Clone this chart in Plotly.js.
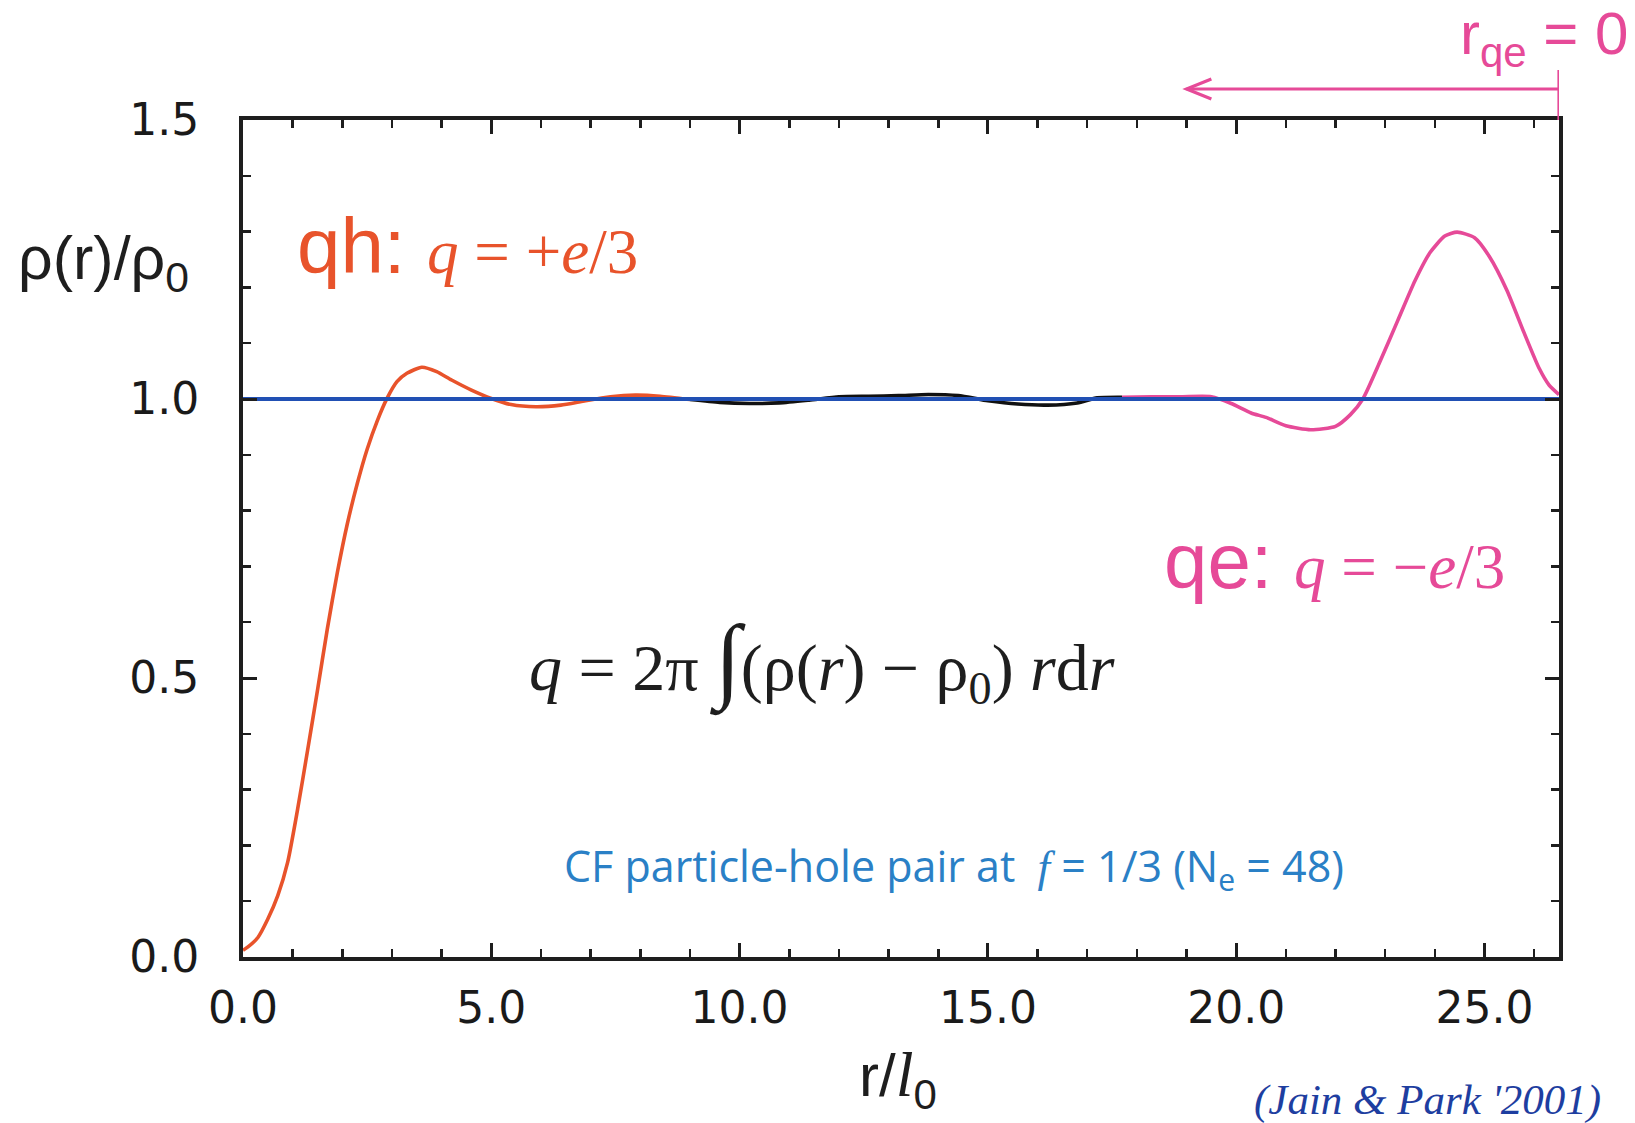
<!DOCTYPE html>
<html>
<head>
<meta charset="utf-8">
<script src="https://cdn.plot.ly/plotly-3.0.1.min.js"></script>
<style>
  html, body { margin: 0; padding: 0; background: #ffffff; }
  #chart { width: 1635px; height: 1123px; }
</style>
</head>
<body>
<div id="chart"></div>
<script>
// Radial density profile of a CF particle-hole pair, rho(r)/rho0 versus r/l0.

// Quasihole side (orange), measured from the quasihole centre
const rQh = [0, 0.1, 0.3, 0.5, 0.7, 0.9, 1.1, 1.3, 1.5, 1.7, 1.9, 2.1, 2.3, 2.5, 2.7, 2.9,
             3.1, 3.3, 3.6, 3.9, 4.2, 4.6, 5.0, 5.4, 5.9, 6.4, 6.9, 7.4, 7.9, 8.4, 9.0];
const rhoQh = [0.012, 0.018, 0.035, 0.068, 0.11, 0.17, 0.265, 0.37, 0.478, 0.589, 0.689,
               0.776, 0.848, 0.91, 0.96, 1.001, 1.031, 1.046, 1.057, 1.049, 1.034, 1.016,
               1.001, 0.99, 0.986, 0.989, 0.997, 1.004, 1.007, 1.005, 0.999];

// Bulk region between the two quasiparticles (black)
const rMid = [9.0, 9.6, 10.2, 10.8, 11.4, 12.0, 12.6, 13.2, 13.8, 14.4, 15.0, 15.6, 16.2,
              16.8, 17.2, 17.7];
const rhoMid = [0.999, 0.994, 0.992, 0.993, 0.998, 1.004, 1.005, 1.006, 1.008, 1.006,
                0.997, 0.991, 0.989, 0.993, 1.002, 1.003];

// Quasielectron side (pink), quasielectron centre at the right edge
const rQe = [17.7, 18.3, 18.9, 19.5, 19.9, 20.3, 20.6, 21.0, 21.5, 22.0, 22.3, 22.55, 22.9,
             23.25, 23.6, 23.9, 24.2, 24.45, 24.8, 25.1, 25.45, 25.8, 26.1, 26.3, 26.5];
const rhoQe = [1.003, 1.004, 1.004, 1.004, 0.992, 0.975, 0.967, 0.952, 0.945, 0.951, 0.972,
               1.0, 1.068, 1.14, 1.212, 1.262, 1.292, 1.299, 1.289, 1.255, 1.195, 1.118,
               1.055, 1.025, 1.008];

// Uniform background density rho0
const rBulk = [0, 26.5];
const rhoBulk = [1, 1];

// Axis ticks
const xTickVals = [0, 5, 10, 15, 20, 25];
const xTickText = ['0.0', '5.0', '10.0', '15.0', '20.0', '25.0'];
const yTickVals = [0, 0.5, 1.0, 1.5];
const yTickText = ['0.0', '0.5', '1.0', '1.5'];

const ORANGE = '#e8532b';
const PINK = '#e64a98';
const BLUE_LINE = '#2150b4';
const CF_BLUE = '#2a80c6';
const REF_BLUE = '#1e3ea0';
const INK = '#1e1e1e';
const SANS = '"Liberation Sans", Arial, sans-serif';
const WIDE = '"DejaVu Sans", sans-serif';
const SERIF = '"Liberation Serif", "Times New Roman", serif';

const W = 1635, H = 1123;
const M = { l: 243, r: 76, t: 120, b: 166 };
const xRange = [0, 26.5];
const yRange = [0, 1.5];

// helpers for placing text in page pixels outside the axes
const pw = W - M.l - M.r, ph = H - M.t - M.b;
const px = x => (x - M.l) / pw;
const py = y => (H - M.b - y) / ph;

const curve = (x, y, color) => ({
  x: x, y: y, type: 'scatter', mode: 'lines',
  line: { color: color, width: 3.6, shape: 'spline', smoothing: 0.6 },
  hoverinfo: 'skip', showlegend: false
});

const traces = [
  curve(rQh, rhoQh, ORANGE),
  curve(rMid, rhoMid, '#111111'),
  curve(rQe, rhoQe, PINK),
  { x: rBulk, y: rhoBulk, type: 'scatter', mode: 'lines',
    line: { color: BLUE_LINE, width: 4 }, hoverinfo: 'skip', showlegend: false }
];

const serifSpan = (s, size) =>
  `<span style="font-family:'Liberation Serif';font-size:${size}px">${s}</span>`;

const annotations = [
  { // quasihole label
    x: 1.05, y: 1.274, xref: 'x', yref: 'y', xanchor: 'left', yanchor: 'middle',
    showarrow: false, font: { family: SANS, size: 78, color: ORANGE },
    text: 'qh: ' + serifSpan('<i>q</i> = +<i>e</i>/3', 63)
  },
  { // quasielectron label
    x: 18.5, y: 0.71, xref: 'x', yref: 'y', xanchor: 'left', yanchor: 'middle',
    showarrow: false, font: { family: SANS, size: 78, color: PINK },
    text: 'qe: ' + serifSpan('<i>q</i> = −<i>e</i>/3', 63)
  },
  { // charge integral
    x: 5.72, y: 0.53, xref: 'x', yref: 'y', xanchor: 'left', yanchor: 'middle',
    showarrow: false, font: { family: SERIF, size: 66, color: INK },
    text: '<i>q</i> = 2π <span style="font-size:94px">∫</span>(ρ(<i>r</i>) − ρ<sub>0</sub>) <i>r</i>d<i>r</i>'
  },
  { // system description
    x: px(954), y: py(868), xref: 'paper', yref: 'paper', xanchor: 'center', yanchor: 'middle',
    showarrow: false, font: { family: '"Open Sans", sans-serif', size: 43, color: CF_BLUE },
    text: 'CF particle-hole pair at  ' +
          serifSpan('<i>f</i>', 45) + ' = 1/3 (N<sub>e</sub> = 48)'
  },
  { // reference
    x: px(1603), y: py(1100), xref: 'paper', yref: 'paper', xanchor: 'right', yanchor: 'middle',
    showarrow: false, font: { family: SERIF, size: 43, color: REF_BLUE },
    text: "<i>(Jain &amp; Park '2001)</i>"
  },
  { // quasielectron origin marker
    x: px(1630), y: py(38), xref: 'paper', yref: 'paper', xanchor: 'right', yanchor: 'middle',
    showarrow: false, font: { family: SANS, size: 60, color: PINK },
    text: 'r<sub>qe</sub> = 0'
  },
  { // y axis title
    x: px(16), y: py(262), xref: 'paper', yref: 'paper', xanchor: 'left', yanchor: 'middle',
    showarrow: false, font: { family: SANS, size: 61, color: INK },
    text: 'ρ(r)/ρ<sub>0</sub>'
  },
  { // x axis title
    x: px(898), y: py(1078), xref: 'paper', yref: 'paper', xanchor: 'center', yanchor: 'middle',
    showarrow: false, font: { family: SANS, size: 60, color: INK },
    text: 'r/' + serifSpan('<i>l</i>', 64) + '<sub>0</sub>'
  }
];

// arrow from r_qe = 0 pointing toward decreasing r
const arrowY = py(89);
const shapes = [
  { type: 'line', xref: 'x', yref: 'paper', x0: 19.0, x1: 26.5, y0: arrowY, y1: arrowY,
    line: { color: PINK, width: 3.2 } },
  { type: 'line', xref: 'x', yref: 'paper', x0: 26.5, x1: 26.5, y0: py(70), y1: 1,
    line: { color: PINK, width: 3.2 } },
  { type: 'path', xref: 'x', yref: 'paper',
    path: `M 19.5 ${arrowY + 0.012} L 19.0 ${arrowY} L 19.5 ${arrowY - 0.012}`,
    line: { color: PINK, width: 3.2 } }
];

const axisCommon = {
  showgrid: false, zeroline: false, showline: true, linecolor: INK, linewidth: 4,
  mirror: 'allticks', ticks: 'inside', ticklen: 14, tickwidth: 3, tickcolor: INK,
  tickfont: { family: WIDE, size: 44, color: '#1a1a1a' },
  fixedrange: true
};

const layout = {
  width: W, height: H,
  margin: M,
  paper_bgcolor: '#ffffff', plot_bgcolor: '#ffffff',
  showlegend: false,
  xaxis: Object.assign({}, axisCommon, {
    range: xRange, tickmode: 'array', tickvals: xTickVals, ticktext: xTickText,
    ticklabelstandoff: 9,
    minor: { dtick: 1, ticks: 'inside', ticklen: 8, tickwidth: 2.5, tickcolor: INK, showgrid: false }
  }),
  yaxis: Object.assign({}, axisCommon, {
    range: yRange, tickmode: 'array', tickvals: yTickVals, ticktext: yTickText,
    ticklabelstandoff: 31,
    minor: { dtick: 0.1, ticks: 'inside', ticklen: 8, tickwidth: 2.5, tickcolor: INK, showgrid: false }
  }),
  annotations: annotations,
  shapes: shapes
};

Plotly.newPlot('chart', traces, layout, { staticPlot: true, displayModeBar: false });
</script>
</body>
</html>
